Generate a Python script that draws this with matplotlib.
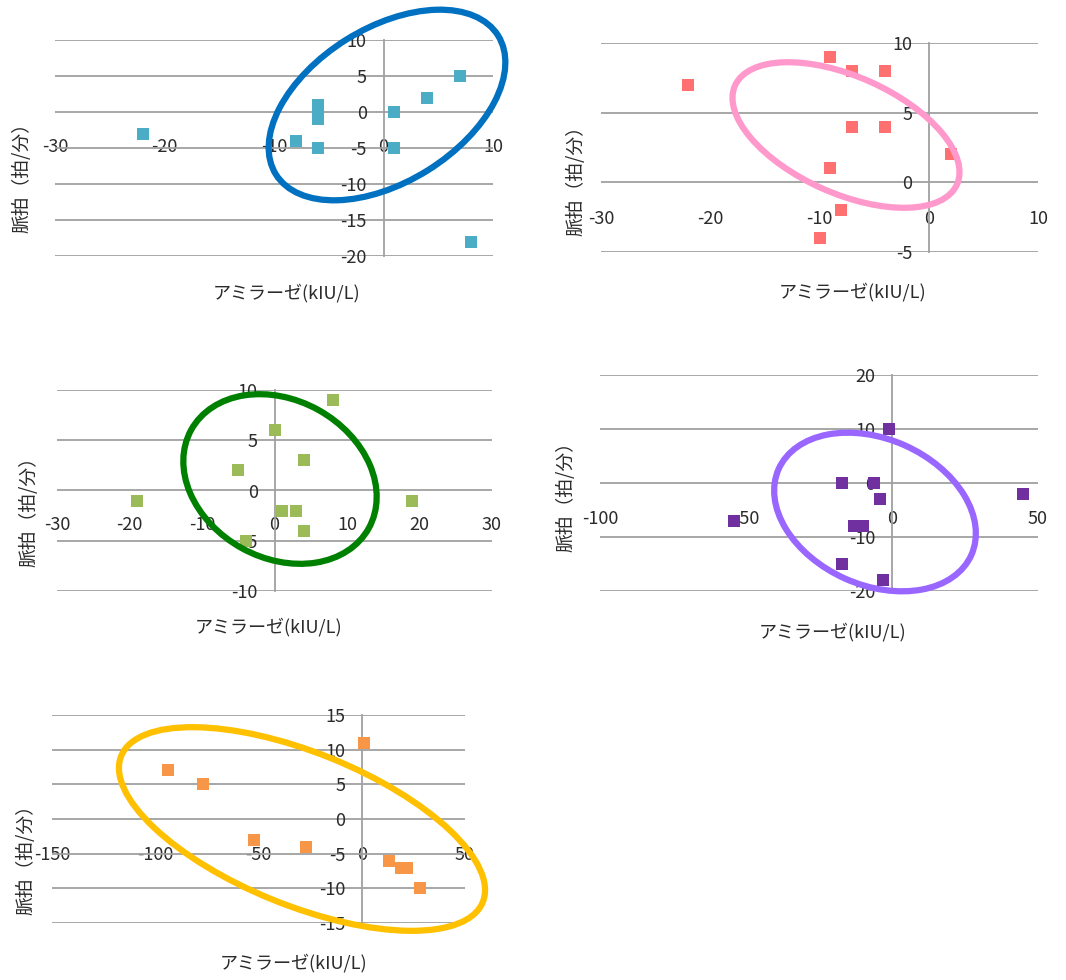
import matplotlib
matplotlib.use('Agg')
import matplotlib.pyplot as plt
import matplotlib.transforms as mtransforms
from matplotlib.patches import Ellipse

plt.rcParams['font.family'] = ['Noto Sans CJK JP', 'DejaVu Sans']
plt.rcParams['axes.unicode_minus'] = False

W, H = 1066, 980

# --- data (amylase vs pulse) ---
amy1 = [-22, -8, -6, -6, -6, -6, 1, 1, 4, 7, 8]
pulse1 = [-3, -4, -5, 1, 0, -1, 0, -5, 2, 5, -18]

amy2 = [-22, -9, -7, -4, -7, -4, 2, -9, -8, -10]
pulse2 = [7, 9, 8, 8, 4, 4, 2, 1, -2, -4]

amy3 = [8, 0, 4, -5, -19, 19, 1, 3, 4, -4]
pulse3 = [9, 6, 3, 2, -1, -1, -2, -2, -4, -5]

amy4 = [-1, -17, -6, -4, 45, -54, -13, -10, -17, -3]
pulse4 = [10, 0, 0, -3, -2, -7, -8, -8, -15, -18]

amy5 = [1, -94, -77, -52, -27, 13, 19, 22, 28]
pulse5 = [11, 7, 5, -3, -4, -6, -7, -7, -10]

xticks1 = [-30, -20, -10, 0, 10]
yticks1 = [-20, -15, -10, -5, 0, 5, 10]
xticks2 = [-30, -20, -10, 0, 10]
yticks2 = [-5, 0, 5, 10]
xticks3 = [-30, -20, -10, 0, 10, 20, 30]
yticks3 = [-10, -5, 0, 5, 10]
xticks4 = [-100, -50, 0, 50]
yticks4 = [-20, -10, 0, 10, 20]
xticks5 = [-150, -100, -50, 0, 50]
yticks5 = [-15, -10, -5, 0, 5, 10, 15]

xlabel = 'アミラーゼ(kIU/L)'
ylabel = '脈拍（拍/分）'

TXT = '#2b2b2b'
GRID = '#a0a0a0'

fig = plt.figure(figsize=(W / 100, H / 100), dpi=100)
px = mtransforms.Affine2D().scale(1 / W, -1 / H).translate(0, 1) + fig.transFigure


def panel(box, x, y, color, xticks, yticks, row, ylab_pos, xlab_pos):
    l, t, r, b = box
    ax = fig.add_axes([l / W, 1 - b / H, (r - l) / W, (b - t) / H])
    ax.set_xlim(xticks[0], xticks[-1])
    ax.set_ylim(yticks[0], yticks[-1])
    ax.set_xticks(xticks)
    ax.set_yticks(yticks)
    ax.yaxis.grid(True, color=GRID, lw=1.3)
    ax.set_facecolor('none')
    for s in ['top', 'right']:
        ax.spines[s].set_visible(False)
    ax.spines['left'].set_position(('data', 0))
    ax.spines['left'].set_color(GRID)
    ax.spines['left'].set_linewidth(1.3)
    ax.spines['bottom'].set_position(('data', row))
    ax.spines['bottom'].set_color('none')
    ax.tick_params(axis='x', length=0, pad=-7.5, labelsize=13, labelcolor=TXT)
    ax.tick_params(axis='y', length=0, pad=12, labelsize=13, labelcolor=TXT)
    ax.scatter(x, y, marker='s', s=74, color=color, linewidths=0,
               zorder=3, clip_on=False)
    fig.text(ylab_pos[0], ylab_pos[1], ylabel, transform=px, rotation=90,
             ha='center', va='center', fontsize=13.5, color=TXT)
    fig.text(xlab_pos[0], xlab_pos[1], xlabel, transform=px,
             ha='center', va='center', fontsize=13, color=TXT)
    return ax


panel((55, 40, 493, 256), amy1, pulse1, '#4bacc6', xticks1, yticks1, -5,
      (22, 173), (287, 293))
panel((601, 43, 1038, 252), amy2, pulse2, '#ff7171', xticks2, yticks2, -2.7,
      (576, 176), (853, 292))
panel((57, 390, 492, 591), amy3, pulse3, '#9bbb59', xticks3, yticks3, -3.6,
      (29, 507), (269, 627))
panel((600, 375, 1038, 591), amy4, pulse4, '#7030a0', xticks4, yticks4, -6.9,
      (566, 492), (833, 632))
panel((52, 715, 465, 923), amy5, pulse5, '#f79646', xticks5, yticks5, -5.4,
      (26, 855), (294, 963))

# hand-drawn highlight ellipses (pixel space, y down)
rings = [
    ((387, 105), 262, 154, -32, '#0070c0'),
    ((846, 135), 243, 117, 24, '#ff99cc'),
    ((280, 479), 203, 158, 29, '#008000'),
    ((875, 512), 211, 146, 24, '#9966ff'),
    ((302, 829), 390, 153, 22, '#ffc000'),
]
for c, w, h, ang, col in rings:
    fig.add_artist(Ellipse(c, w, h, angle=ang, transform=px, fill=False,
                           edgecolor=col, lw=4.5, zorder=5))

fig.savefig('out.png', dpi=100, facecolor='white')
